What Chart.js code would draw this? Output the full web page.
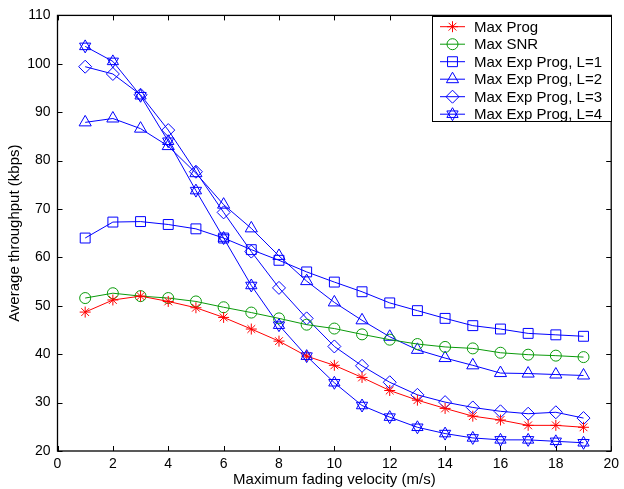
<!DOCTYPE html>
<html>
<head>
<meta charset="UTF-8">
<script src="https://cdn.jsdelivr.net/npm/chart.js@4.4.1/dist/chart.umd.min.js"></script>
<style>
  body { margin: 0; background: #fff; }
  #wrap { width: 624px; height: 489px; }
</style>
</head>
<body>
<div id="wrap"><canvas id="chart" width="624" height="489"></canvas></div>
<script>
// values
var velocity = [1, 2, 3, 4, 5, 6, 7, 8, 9, 10, 11, 12, 13, 14, 15, 16, 17, 18, 19];
var maxProg  = [48.7, 51.2, 52.0, 50.9, 49.6, 47.6, 45.2, 42.7, 39.6, 37.7, 35.2, 32.5, 30.5, 28.8, 27.2, 26.4, 25.3, 25.3, 24.9];
var maxSnr   = [51.6, 52.6, 52.0, 51.6, 50.9, 49.7, 48.6, 47.4, 46.1, 45.3, 44.1, 43.0, 42.1, 41.5, 41.2, 40.3, 39.9, 39.7, 39.4];
var expL1    = [64.0, 67.3, 67.4, 66.8, 65.9, 64.0, 61.6, 59.4, 57.0, 54.9, 52.9, 50.6, 49.0, 47.4, 45.9, 45.2, 44.3, 44.0, 43.7];
var expL2    = [87.9, 88.7, 86.6, 83.0, 77.4, 70.9, 66.0, 60.3, 55.1, 50.7, 47.0, 43.6, 40.9, 39.2, 37.7, 36.1, 36.0, 35.8, 35.6];
var expL3    = [99.4, 97.9, 93.6, 86.3, 77.7, 69.3, 61.2, 53.7, 47.4, 41.6, 37.6, 34.2, 31.6, 30.1, 29.0, 28.2, 27.7, 28.0, 26.8];
var expL4    = [103.6, 100.5, 93.4, 84.0, 73.8, 64.0, 54.2, 46.0, 39.6, 34.1, 29.4, 27.0, 24.9, 23.6, 22.7, 22.3, 22.3, 22.0, 21.7];
var seriesNames = ['Max Prog', 'Max SNR', 'Max Exp Prog, L=1', 'Max Exp Prog, L=2', 'Max Exp Prog, L=3', 'Max Exp Prog, L=4'];
var xTicks = { min: 0, max: 20, step: 2 };
var yTicks = { min: 20, max: 110, step: 10 };

var FONT = '"Liberation Sans", Arial, sans-serif';
var RED = '#ff0000', GREEN = '#0a9a0a', BLUE = '#0000ff';

// star of david, chart.js has no such marker
function drawHexagram(ctx, cx, cy, r, color) {
  ctx.save();
  ctx.strokeStyle = color;
  ctx.lineWidth = 1;
  [-Math.PI / 2, Math.PI / 2].forEach(function (a0) {
    ctx.beginPath();
    for (var k = 0; k < 3; k++) {
      var a = a0 + k * 2 * Math.PI / 3;
      var px = cx + r * Math.cos(a), py = cy + r * Math.sin(a);
      if (k == 0) ctx.moveTo(px, py); else ctx.lineTo(px, py);
    }
    ctx.closePath();
    ctx.stroke();
  });
  ctx.restore();
}

function pts(vals) {
  return vals.map(function (v, i) { return { x: velocity[i], y: v }; });
}

function ds(label, vals, color, style, radius) {
  return {
    label: label,
    data: pts(vals),
    borderColor: color,
    borderWidth: 1,
    pointStyle: style,
    pointRadius: radius,
    pointBorderColor: color,
    pointBackgroundColor: 'rgba(0,0,0,0)',
    pointBorderWidth: 1,
    tension: 0
  };
}

var datasets = [
  ds(seriesNames[0], maxProg, RED, 'star', 5.5),
  ds(seriesNames[1], maxSnr, GREEN, 'circle', 5.5),
  ds(seriesNames[2], expL1, BLUE, 'rect', 7),
  ds(seriesNames[3], expL2, BLUE, 'triangle', 7),
  ds(seriesNames[4], expL3, BLUE, 'rectRot', 6.5),
  ds(seriesNames[5], expL4, BLUE, 'circle', 0)
];
datasets[5].hexagram = 6.5;

var hexPlugin = {
  id: 'hex',
  afterDatasetsDraw: function (chart) {
    chart.data.datasets.forEach(function (d, i) {
      if (!d.hexagram) return;
      chart.getDatasetMeta(i).data.forEach(function (p) {
        drawHexagram(chart.ctx, p.x, p.y, d.hexagram, d.borderColor);
      });
    });
  }
};

// box + inward ticks on all four sides
var boxPlugin = {
  id: 'box',
  afterDatasetsDraw: function (chart) {
    var ctx = chart.ctx, a = chart.chartArea;
    var xs = chart.scales.x, ys = chart.scales.y;
    ctx.save();
    ctx.strokeStyle = '#000';
    ctx.lineWidth = 1;
    ctx.beginPath();
    for (var v = xTicks.min; v <= xTicks.max; v += xTicks.step) {
      var px = Math.round(xs.getPixelForValue(v)) + 0.5;
      ctx.moveTo(px, a.bottom); ctx.lineTo(px, a.bottom - 5);
      ctx.moveTo(px, a.top); ctx.lineTo(px, a.top + 5);
    }
    for (var w = yTicks.min; w <= yTicks.max; w += yTicks.step) {
      var py = Math.round(ys.getPixelForValue(w)) + 0.5;
      ctx.moveTo(a.left, py); ctx.lineTo(a.left + 5, py);
      ctx.moveTo(a.right, py); ctx.lineTo(a.right - 5, py);
    }
    ctx.stroke();
    ctx.lineWidth = 1.3;
    ctx.strokeRect(a.left, a.top, a.right - a.left, a.bottom - a.top);
    ctx.restore();
  }
};

// matlab style legend: line through marker
var legendPlugin = {
  id: 'mlegend',
  afterDraw: function (chart) {
    var ctx = chart.ctx;
    var bx = 432, by = 16, bw = 179, bh = 105;
    ctx.save();
    ctx.fillStyle = '#fff';
    ctx.fillRect(bx, by, bw, bh);
    ctx.strokeStyle = '#000';
    ctx.lineWidth = 1;
    ctx.strokeRect(bx + 0.5, by + 0.5, bw, bh);
    ctx.font = '15px ' + FONT;
    ctx.textBaseline = 'middle';
    chart.data.datasets.forEach(function (d, i) {
      var y = 26.7 + i * 17.5;
      ctx.strokeStyle = d.borderColor;
      ctx.lineWidth = 1;
      ctx.beginPath();
      ctx.moveTo(440, y); ctx.lineTo(465, y);
      ctx.stroke();
      if (d.hexagram) {
        drawHexagram(ctx, 452.5, y, d.hexagram, d.borderColor);
      } else {
        ctx.fillStyle = 'rgba(0,0,0,0)';
        Chart.helpers.drawPoint(ctx, {
          pointStyle: d.pointStyle, radius: d.pointRadius, rotation: 0, borderWidth: 1
        }, 452.5, y);
      }
      ctx.fillStyle = '#000';
      ctx.fillText(d.label, 474, y + 1);
    });
    ctx.restore();
  }
};

new Chart(document.getElementById('chart'), {
  type: 'line',
  data: { datasets: datasets },
  options: {
    responsive: false,
    devicePixelRatio: 1,
    animation: false,
    layout: { padding: { left: 0, right: 8, top: 12, bottom: 0 } },
    plugins: { legend: { display: false }, tooltip: { enabled: false } },
    scales: {
      x: {
        type: 'linear', min: xTicks.min, max: xTicks.max,
        grid: { display: false, drawTicks: false },
        border: { display: false },
        ticks: { stepSize: xTicks.step, color: '#000', padding: 5, font: { family: FONT, size: 14 }, maxRotation: 0 },
        title: { display: true, text: 'Maximum fading velocity (m/s)', color: '#000', font: { family: FONT, size: 15 }, padding: { top: 0, bottom: 0 } },
        afterFit: function (s) { s.height = 38; }
      },
      y: {
        min: yTicks.min, max: yTicks.max,
        grid: { display: false, drawTicks: false },
        border: { display: false },
        ticks: { stepSize: yTicks.step, color: '#000', padding: 7, font: { family: FONT, size: 14 } },
        title: { display: true, text: 'Average throughput (kbps)', color: '#000', font: { family: FONT, size: 15 }, padding: { top: 6, bottom: 0 } },
        afterFit: function (s) { s.width = 57.5; }
      }
    }
  },
  plugins: [hexPlugin, boxPlugin, legendPlugin]
});
</script>
</body>
</html>
